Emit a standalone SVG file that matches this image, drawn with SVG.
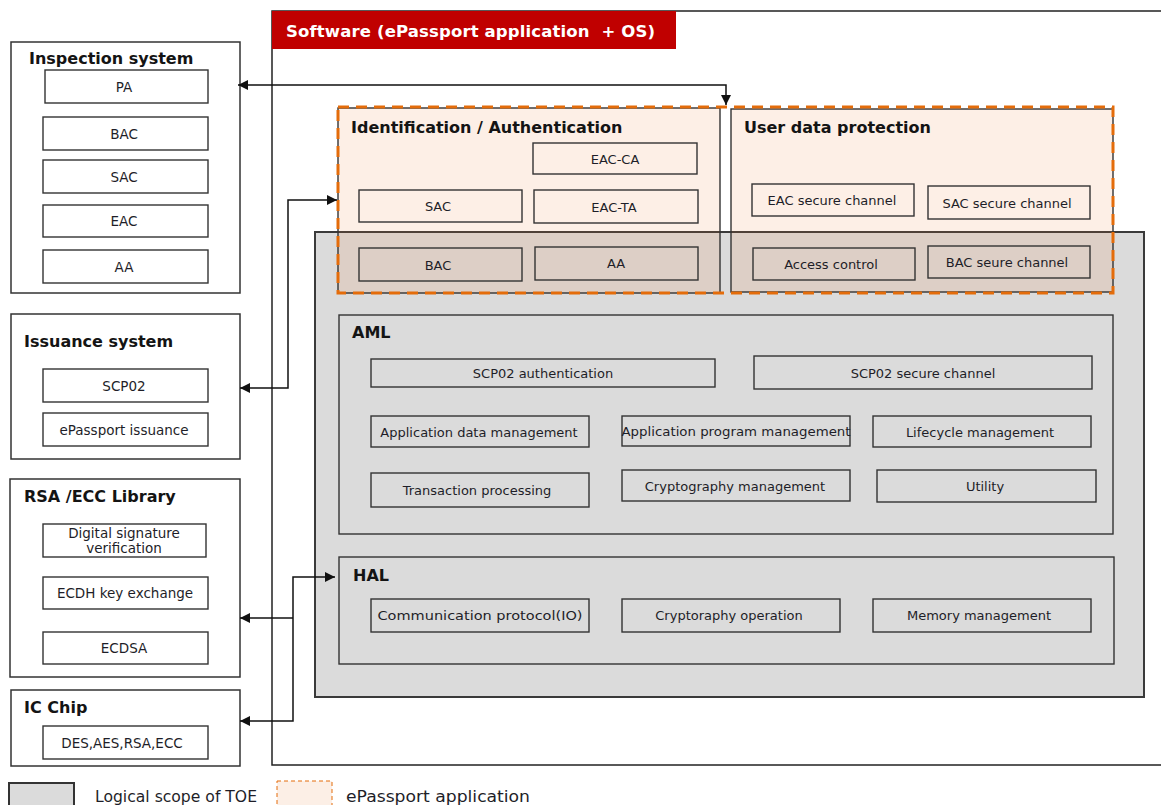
<svg xmlns="http://www.w3.org/2000/svg" width="1161" height="805" viewBox="0 0 1161 805">
<defs>
<style>
text{font-family:"DejaVu Sans","Verdana",sans-serif;fill:#1e1e28}
.t{font-size:13px;text-anchor:middle}
.tl{font-size:13.5px;text-anchor:middle}
.h{font-size:16px;font-weight:bold;fill:#141414}
.box{fill:#fff;stroke:#333;stroke-width:1.4}
.ibox{fill:none;stroke:#333;stroke-width:1.4}
.sys{fill:#fff;stroke:#333;stroke-width:1.5}
.peach{fill:#ED7D31;fill-opacity:0.12;stroke:#333;stroke-width:1.4}
.conn{fill:none;stroke:#111;stroke-width:1.5}
</style>
<marker id="arr" viewBox="0 0 10 10" refX="10" refY="5" markerWidth="10" markerHeight="10" markerUnits="userSpaceOnUse" orient="auto-start-reverse">
<path d="M0,0 L10,5 L0,10 z" fill="#111"/>
</marker>
</defs>
<rect width="1161" height="805" fill="#fff"/>

<!-- Software outer -->
<g id="software">
<rect x="272" y="11" width="900" height="754" fill="#fff" stroke="#222" stroke-width="1.5"/>
<rect x="272" y="11" width="404" height="38" fill="#C00000"/>
<text x="286" y="37" style="font-size:16.5px;font-weight:bold;fill:#fff;white-space:pre" textLength="369" lengthAdjust="spacing">Software (ePassport application  + OS)</text>
</g>

<!-- TOE gray -->
<g id="toe">
<rect x="315" y="232" width="829" height="465" fill="#DBDBDB" stroke="#3a3a3a" stroke-width="2"/>
</g>

<g id="aml">
<rect x="339" y="315" width="774" height="219" class="ibox"/>
<text x="352" y="338" class="h">AML</text>
<rect x="371" y="359" width="344" height="28" class="ibox"/><text x="543" y="378" class="t">SCP02 authentication</text>
<rect x="754" y="356" width="338" height="33" class="ibox"/><text x="923" y="377.5" class="t">SCP02 secure channel</text>
<rect x="371" y="416" width="218" height="31" class="ibox"/><text x="479" y="436.5" class="t">Application data management</text>
<rect x="622" y="416" width="228" height="30" class="ibox"/><text x="736" y="435.5" class="t" textLength="229" lengthAdjust="spacingAndGlyphs">Application program management</text>
<rect x="873" y="416" width="218" height="31" class="ibox"/><text x="980" y="436.5" class="t">Lifecycle management</text>
<rect x="371" y="473" width="218" height="34" class="ibox"/><text x="477" y="494.5" class="t">Transaction processing</text>
<rect x="622" y="470" width="228" height="31" class="ibox"/><text x="735" y="490.5" class="t">Cryptography management</text>
<rect x="877" y="470" width="219" height="32" class="ibox"/><text x="985" y="490.5" class="t">Utility</text>
</g>

<g id="hal">
<rect x="339" y="557" width="775" height="107" class="ibox"/>
<text x="353" y="581" class="h">HAL</text>
<rect x="371" y="599" width="218" height="33" class="ibox"/><text x="480" y="620" class="t" textLength="205" lengthAdjust="spacingAndGlyphs">Communication protocol(IO)</text>
<rect x="622" y="599" width="218" height="33" class="ibox"/><text x="729" y="620" class="t">Cryptoraphy operation</text>
<rect x="873" y="599" width="218" height="33" class="ibox"/><text x="979" y="620" class="t">Memory management</text>
</g>

<!-- Identification / Authentication -->
<g id="ident">
<rect x="338" y="108" width="382" height="185" class="peach"/>
<text x="351" y="133" class="h">Identification / Authentication</text>
<rect x="533" y="143" width="164" height="31" class="ibox"/><text x="615" y="163.5" class="t">EAC-CA</text>
<rect x="359" y="190" width="163" height="32" class="ibox"/><text x="438" y="210.5" class="t">SAC</text>
<rect x="534" y="190" width="164" height="33" class="ibox"/><text x="614" y="211.5" class="t">EAC-TA</text>
<rect x="359" y="248" width="163" height="33" class="ibox"/><text x="438" y="269.5" class="t">BAC</text>
<rect x="535" y="247" width="163" height="33" class="ibox"/><text x="616" y="268" class="t">AA</text>
</g>

<g id="udp">
<rect x="731" y="109" width="382" height="183" class="peach"/>
<text x="744" y="133" class="h">User data protection</text>
<rect x="752" y="184" width="162" height="32" class="ibox"/><text x="832" y="205" class="t">EAC secure channel</text>
<rect x="928" y="186" width="162" height="33" class="ibox"/><text x="1007" y="207.5" class="t">SAC secure channel</text>
<rect x="753" y="248" width="162" height="32" class="ibox"/><text x="831" y="269" class="t">Access control</text>
<rect x="928" y="246" width="162" height="32" class="ibox"/><text x="1007" y="267" class="t">BAC seure channel</text>
</g>

<g id="epassport-scope">
<rect x="338" y="107" width="775" height="186" fill="none" stroke="#E46C0A" stroke-width="3" stroke-dasharray="11,7"/>
</g>

<!-- Left systems -->
<g id="inspection">
<rect x="11" y="42" width="229" height="251" class="sys"/>
<text x="29" y="64" class="h">Inspection system</text>
<rect x="45" y="70" width="163" height="33" class="box"/><text x="124" y="91.5" class="tl">PA</text>
<rect x="43" y="117" width="165" height="33" class="box"/><text x="124" y="138.5" class="tl">BAC</text>
<rect x="43" y="160" width="165" height="33" class="box"/><text x="124" y="181.5" class="tl">SAC</text>
<rect x="43" y="205" width="165" height="32" class="box"/><text x="124" y="226" class="tl">EAC</text>
<rect x="43" y="250" width="165" height="33" class="box"/><text x="124" y="271.5" class="tl">AA</text>
</g>

<g id="issuance">
<rect x="11" y="314" width="229" height="145" class="sys"/>
<text x="24" y="347" class="h">Issuance system</text>
<rect x="43" y="369" width="165" height="33" class="box"/><text x="124" y="390.5" class="tl">SCP02</text>
<rect x="43" y="413" width="165" height="33" class="box"/><text x="124" y="434.5" class="tl">ePassport issuance</text>
</g>

<g id="library">
<rect x="10" y="479" width="230" height="198" class="sys"/>
<text x="24" y="502" class="h">RSA /ECC Library</text>
<rect x="43" y="524" width="163" height="33" class="box"/>
<text x="124" y="538" class="tl">Digital signature</text>
<text x="124" y="553" class="tl">verification</text>
<rect x="43" y="577" width="165" height="32" class="box"/><text x="125" y="598" class="tl">ECDH key exchange</text>
<rect x="43" y="632" width="165" height="32" class="box"/><text x="124" y="653" class="tl">ECDSA</text>
</g>

<g id="icchip">
<rect x="11" y="690" width="229" height="76" class="sys"/>
<text x="24" y="713" class="h">IC Chip</text>
<rect x="43" y="726" width="165" height="33" class="box"/><text x="122" y="747.5" class="tl">DES,AES,RSA,ECC</text>
</g>

<!-- Connectors -->
<g id="connectors">
<path class="conn" d="M238 85 H726 V105" marker-start="url(#arr)" marker-end="url(#arr)"/>
<path class="conn" d="M240 388 H288 V200 H337" marker-start="url(#arr)" marker-end="url(#arr)"/>
<path class="conn" d="M240 721 H293 V577 H335" marker-start="url(#arr)" marker-end="url(#arr)"/>
<path class="conn" d="M240 618 H293" marker-start="url(#arr)"/>
</g>

<!-- Legend -->
<g id="legend">
<rect x="9" y="783" width="65" height="30" fill="#DBDBDB" stroke="#333" stroke-width="2"/>
<text x="95" y="802" style="font-size:16px" textLength="162" lengthAdjust="spacingAndGlyphs">Logical scope of TOE</text>
<rect x="277" y="781" width="55" height="30" fill="#FCEFE6" stroke="#E46C0A" stroke-width="1" stroke-dasharray="4,3"/>
<text x="346" y="802" style="font-size:16px" textLength="184" lengthAdjust="spacingAndGlyphs">ePassport application</text>
</g>
</svg>
